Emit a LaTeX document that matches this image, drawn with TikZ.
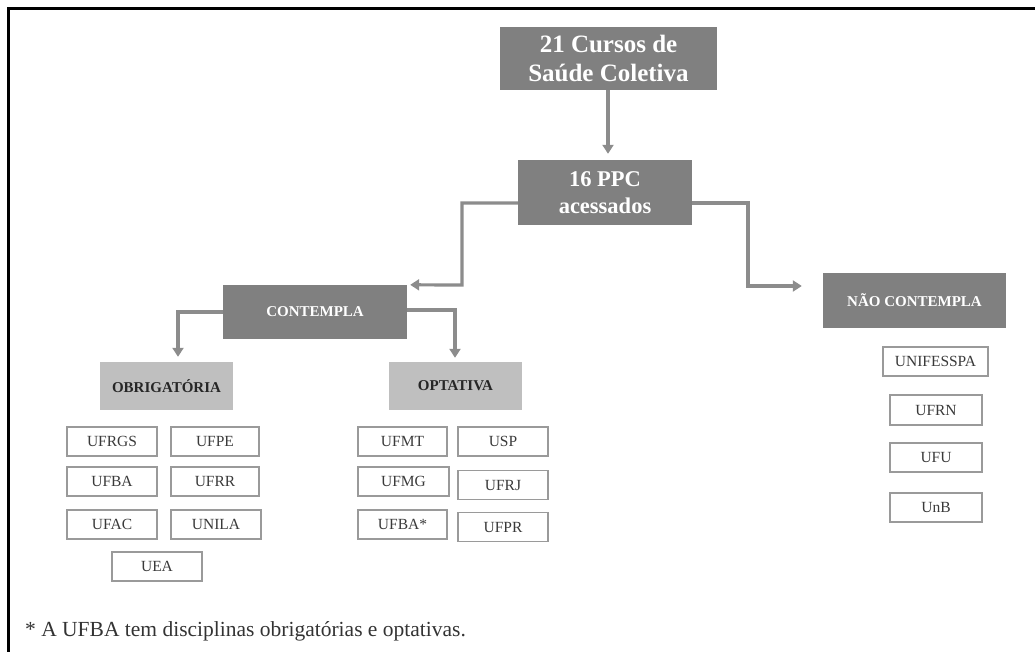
\documentclass[tikz,border=0pt]{standalone}
\usepackage{fontspec}
\setmainfont{Liberation Serif}
\usetikzlibrary{arrows.meta}
\definecolor{darkbox}{HTML}{808080}
\definecolor{lightbox}{HTML}{BFBFBF}
\definecolor{linkgray}{HTML}{8C8C8C}
\definecolor{smallborder}{HTML}{9A9A9A}
\definecolor{smalltext}{HTML}{3A3A3A}
\tikzset{
  darknode/.style={fill=darkbox, draw=none, text=white, inner sep=0pt, align=center, font=\bfseries},
  lightnode/.style={fill=lightbox, draw=none, text=black!85, inner sep=0pt, align=center, font=\bfseries\fontsize{15}{18}\selectfont},
  uninode/.style={draw=smallborder, line width=1.2pt, fill=white, text=smalltext, inner sep=0pt,
    minimum width=90pt, minimum height=29pt, font=\fontsize{15.5}{18}\selectfont},
  link/.style={draw=linkgray, line width=3.2pt, -{Triangle[width=11pt,length=9pt]}},
}
\begin{document}
\begin{tikzpicture}[x=1pt,y=-1pt]
\useasboundingbox (0,0) rectangle (1035,652);
% frame
\draw[line width=3pt, black] (8,652) -- (8,8.5) -- (1035,8.5);
% main nodes
\node[darknode, minimum width=217pt, minimum height=63pt, font=\bfseries\fontsize{25}{29}\selectfont] (c21) at (608.5,58.5) {21 Cursos de\\Saúde Coletiva};
\node[darknode, minimum width=174pt, minimum height=65pt, font=\bfseries\fontsize{22.5}{27}\selectfont] (p16) at (605,192.5) {16 PPC\\acessados};
\node[darknode, minimum width=184pt, minimum height=54pt, font=\bfseries\fontsize{15}{18}\selectfont] (cont) at (315,312) {CONTEMPLA};
\node[darknode, minimum width=183pt, minimum height=55pt, font=\bfseries\fontsize{15}{18}\selectfont] (nao) at (914.5,300.5) {NÃO CONTEMPLA};
\node[lightnode, minimum width=133pt, minimum height=48pt] (obr) at (166.5,386) {OBRIGATÓRIA};
\node[lightnode, minimum width=133pt, minimum height=48pt] (opt) at (455.5,386) {OPTATIVA};
% connectors
\draw[link, shorten >=6pt] (c21.south -| 608,0) -- (608,0 |- p16.north);
\draw[link, shorten >=3pt] (p16.west |- 0,203) -- (462,203) -- (462,285) -- (cont.north east);
\draw[link, shorten >=21pt] (p16.east |- 0,203) -- (748,203) -- (748,286) -- (nao.west |- 0,286);
\draw[link, shorten >=5pt] (cont.west |- 0,312) -- (178,312) -- (178,0 |- obr.north);
\draw[link, shorten >=4pt] (cont.east |- 0,310) -- (455,310) -- (455,0 |- opt.north);
% obrigatoria
\node[uninode] (ufrgs) at (112,441.5) {UFRGS};
\node[uninode, minimum width=88pt] (ufpe) at (215,441.5) {UFPE};
\node[uninode] (ufba) at (112,481.5) {UFBA};
\node[uninode, minimum width=88pt] (ufrr) at (215,481.5) {UFRR};
\node[uninode] (ufac) at (112,524.5) {UFAC};
\node[uninode] (unila) at (216,524.5) {UNILA};
\node[uninode] (uea) at (157,566.5) {UEA};
% optativa
\node[uninode, minimum width=89pt] (ufmt) at (402.5,441.5) {UFMT};
\node[uninode] (usp) at (503,441.5) {USP};
\node[uninode, minimum width=91pt] (ufmg) at (403.5,481.5) {UFMG};
\node[uninode] (ufrj) at (503,485) {UFRJ};
\node[uninode, minimum width=89pt] (ufbas) at (402.5,524.5) {UFBA*};
\node[uninode] (ufpr) at (503,527) {UFPR};
% nao contempla
\node[uninode, minimum width=105pt] (unifesspa) at (935.5,361.5) {UNIFESSPA};
\node[uninode, minimum width=92pt, minimum height=30pt] (ufrn) at (936,410) {UFRN};
\node[uninode, minimum width=92pt] (ufu) at (936,457.5) {UFU};
\node[uninode, minimum width=92pt] (unb) at (936,507.5) {UnB};
% footnote
\node[anchor=base west, inner sep=0pt, text=black!80, font=\fontsize{21.5}{25}\selectfont] (foot) at (25,636) {* A UFBA tem disciplinas obrigatórias e optativas.};
\end{tikzpicture}
\end{document}
